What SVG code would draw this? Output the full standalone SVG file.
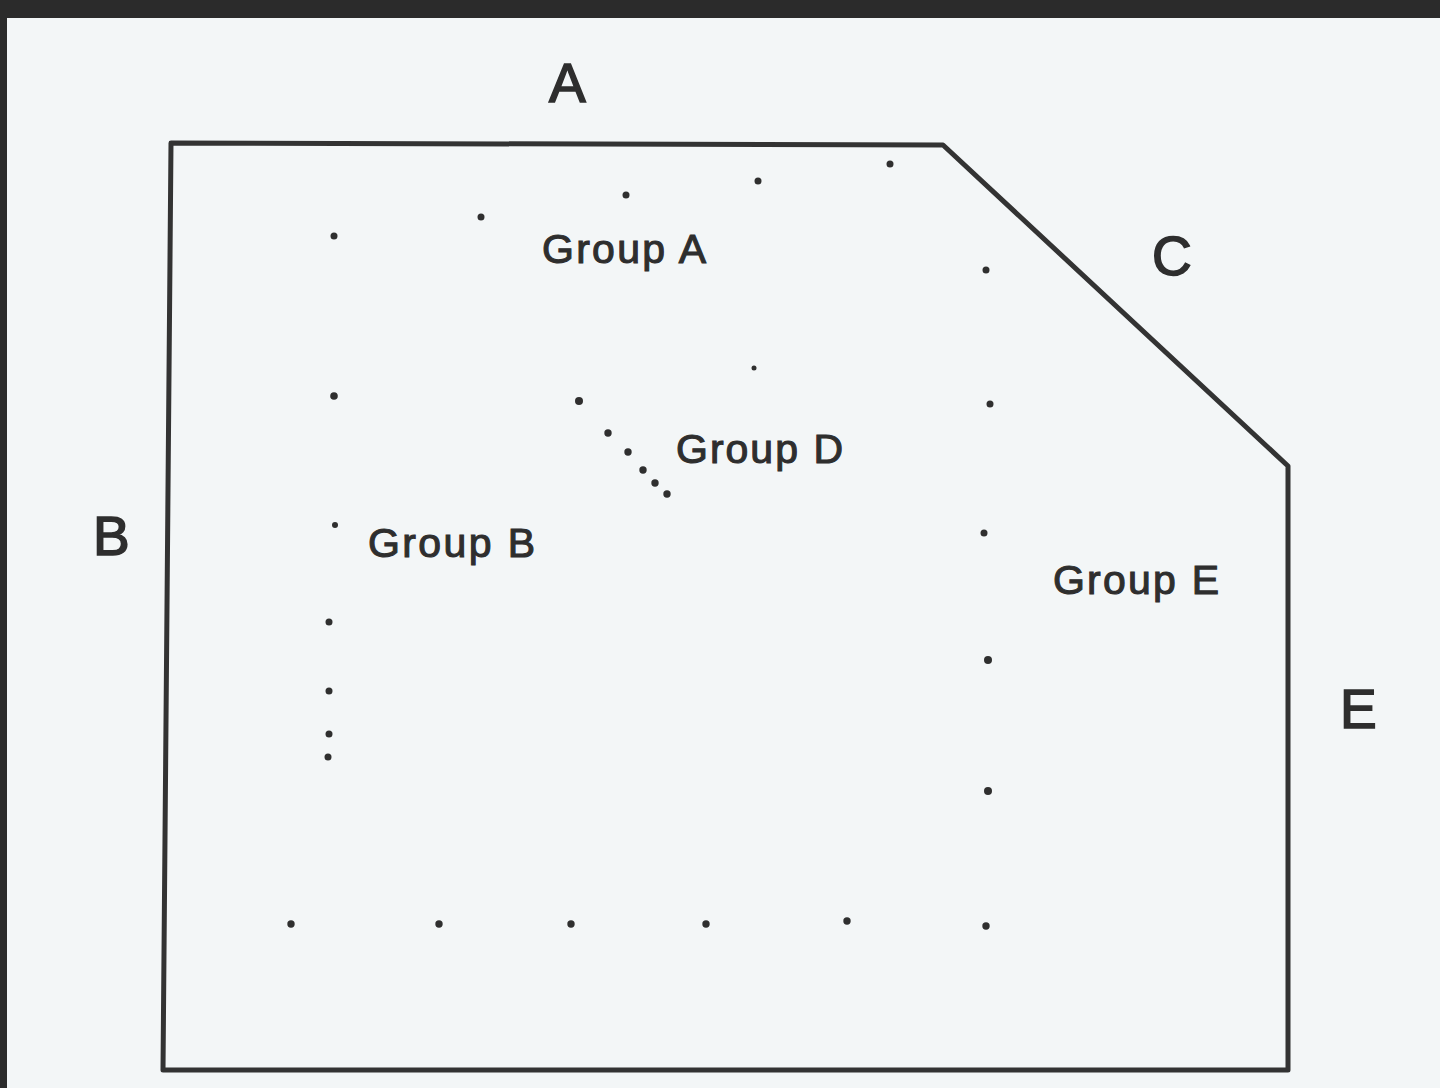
<svg xmlns="http://www.w3.org/2000/svg" width="1440" height="1088" viewBox="0 0 1440 1088">
<style>
.lbl{font-family:"Liberation Sans",Arial,sans-serif;fill:#2e2e2e;stroke:#2e2e2e;stroke-width:1.6}
.big{font-size:55px}
.grp{font-size:41px;stroke-width:1.1}
.dot{fill:#2f2f2f}
</style>
<rect x="0" y="0" width="1440" height="1088" fill="#f3f6f7"/>
<rect x="0" y="0" width="1440" height="18" fill="#2b2b2b"/>
<rect x="0" y="0" width="7" height="1088" fill="#2b2b2b"/>
<g id="outline">
<path d="M171,143 L943,145 L1288,466 L1288,1070 L163,1070 Z" fill="none" stroke="#333" stroke-width="5" stroke-linejoin="round"/>
</g>
<g id="side-labels">
<text class="lbl big" x="549" y="102">A</text>
<text class="lbl big" x="93" y="555">B</text>
<text class="lbl big" x="1152" y="275">C</text>
<text class="lbl big" x="1340" y="728">E</text>
</g>
<g id="group-a">
<text class="lbl grp" x="542" y="263" textLength="164" lengthAdjust="spacing">Group A</text>
<circle class="dot" cx="334" cy="236" r="3.5"/>
<circle class="dot" cx="481" cy="217" r="3.5"/>
<circle class="dot" cx="626" cy="195" r="3.5"/>
<circle class="dot" cx="758" cy="181" r="3.5"/>
<circle class="dot" cx="890" cy="164" r="3.5"/>
</g>
<g id="group-b">
<text class="lbl grp" x="368" y="557" textLength="167" lengthAdjust="spacing">Group B</text>
<circle class="dot" cx="334" cy="396" r="3.8"/>
<circle class="dot" cx="335" cy="525" r="3"/>
<circle class="dot" cx="329" cy="622" r="3.5"/>
<circle class="dot" cx="329" cy="691" r="3.5"/>
<circle class="dot" cx="329" cy="734" r="3.5"/>
<circle class="dot" cx="328" cy="757" r="3.5"/>
</g>
<g id="group-d">
<text class="lbl grp" x="676" y="463" textLength="167" lengthAdjust="spacing">Group D</text>
<circle class="dot" cx="754" cy="368" r="2.5"/>
<circle class="dot" cx="579" cy="401" r="4"/>
<circle class="dot" cx="608" cy="433" r="3.7"/>
<circle class="dot" cx="628" cy="452" r="3.7"/>
<circle class="dot" cx="643" cy="470" r="3.7"/>
<circle class="dot" cx="655" cy="483" r="3.7"/>
<circle class="dot" cx="667" cy="494" r="3.7"/>
</g>
<g id="group-e">
<text class="lbl grp" x="1053" y="594" textLength="166" lengthAdjust="spacing">Group E</text>
<circle class="dot" cx="986" cy="270" r="3.5"/>
<circle class="dot" cx="990" cy="404" r="3.5"/>
<circle class="dot" cx="984" cy="533" r="3.5"/>
<circle class="dot" cx="988" cy="660" r="4"/>
<circle class="dot" cx="988" cy="791" r="4"/>
<circle class="dot" cx="986" cy="926" r="3.7"/>
</g>
<g id="bottom-row">
<circle class="dot" cx="291" cy="924" r="3.7"/>
<circle class="dot" cx="439" cy="924" r="3.7"/>
<circle class="dot" cx="571" cy="924" r="3.7"/>
<circle class="dot" cx="706" cy="924" r="3.7"/>
<circle class="dot" cx="847" cy="921" r="3.7"/>
</g>
</svg>
